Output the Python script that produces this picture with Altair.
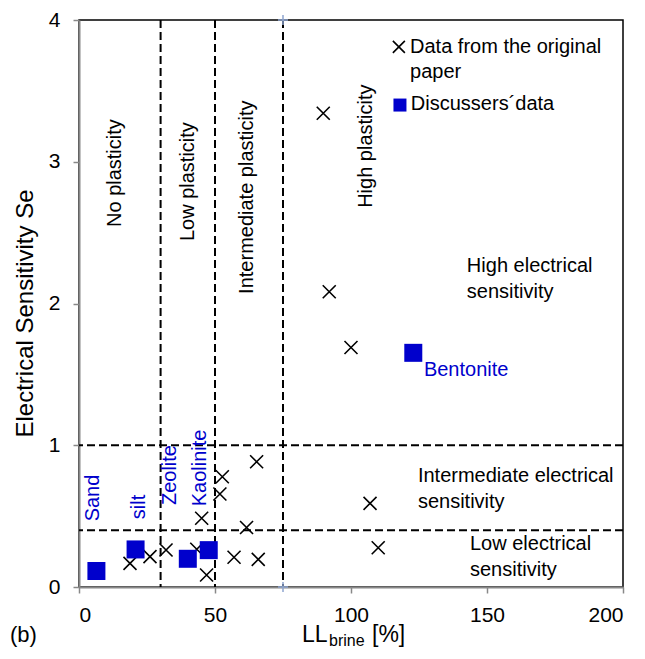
import altair as alt
import pandas as pd

# --- data ---
orig_x = [18.75, 26.1, 32.0, 43.3, 45.1, 46.9, 51.8, 52.7, 57.0, 61.6, 65.3, 65.9, 89.8, 92.0, 100.0, 107.0, 110.0]
orig_y = [0.167, 0.214, 0.261, 0.266, 0.485, 0.085, 0.656, 0.778, 0.21, 0.42, 0.884, 0.195, 3.342, 2.083, 1.69, 0.59, 0.277]

disc_names = ["Sand", "silt", "Zeolite", "Kaolinite", "Bentonite"]
disc_x = [6.4, 20.8, 40.0, 47.7, 122.9]
disc_y = [0.113, 0.265, 0.199, 0.26, 1.652]

plast_limits = [30, 50, 75]
sens_limits = [0.4, 1.0]

x_ticks = [0, 50, 100, 150, 200]
y_ticks = [0, 1, 2, 3, 4]

# annotations (data coordinates)
rot_labels = ["No plasticity", "Low plasticity", "Intermediate plasticity", "High  plasticity"]
rot_x = [13.2, 40.0, 61.8, 105.5]
rot_y = [2.92, 2.86, 2.75, 3.11]

blue_rot_labels = ["Sand", "silt", "Zeolite", "Kaolinite"]
blue_rot_x = [5.1, 22.0, 33.5, 44.5]
blue_rot_y = [0.628, 0.565, 0.79, 0.84]

sens_labels = ["High electrical\nsensitivity", "Intermediate electrical\nsensitivity", "Low electrical\nsensitivity"]
sens_x = [142.6, 124.6, 143.75]
sens_y = [2.22, 0.74, 0.26]

bent_label_x = [126.8]
bent_label_y = [1.49]

leg_labels = ["Data from the original\npaper", "Discussers\u00b4data"]
leg_sym_x = [117.6, 118.0]
leg_sym_y = [3.81, 3.40]
leg_text_x = [121.7, 122.0]
leg_text_y = [3.767, 3.365]

corner_x = [75, 75]
corner_y = [4, 0]

FONT = "Liberation Sans"
BLUE = "#0000cc"
XPATH = "M-1,-1L1,1M-1,1L1,-1"
PLUS = "M-1,0L1,0M0,-1L0,1"

xs = alt.Scale(domain=[0, 200], nice=False)
ys = alt.Scale(domain=[0, 4], nice=False)

x_axis = alt.Axis(values=x_ticks, format="d", title=None, grid=False, domainColor="#888888", domainWidth=2,
                  tickColor="#888888", tickWidth=1.5, tickSize=6, labelFontSize=21, labelFont=FONT,
                  labelColor="black", labelPadding=11)
y_axis = alt.Axis(values=y_ticks, format="d", title="Electrical Sensitivity Se", grid=False,
                  domainColor="#888888", domainWidth=2, tickColor="#888888", tickWidth=1.5, tickSize=6,
                  labelFontSize=21, labelFont=FONT, labelColor="black", labelPadding=13, titleFont=FONT,
                  titleFontSize=24, titleFontWeight="normal", titleColor="black", titleX=-47, titleY=293,
                  titleAngle=270, titleBaseline="alphabetic", titleAlign="center")

orig_df = pd.DataFrame({"x": orig_x, "y": orig_y})
disc_df = pd.DataFrame({"x": disc_x, "y": disc_y, "name": disc_names})

vrules = alt.Chart(pd.DataFrame({"x": plast_limits})).mark_rule(
    color="black", strokeWidth=2, strokeDash=[8, 4]).encode(x=alt.X("x:Q", scale=xs, axis=x_axis))
hrules = alt.Chart(pd.DataFrame({"y": sens_limits})).mark_rule(
    color="black", strokeWidth=2, strokeDash=[8, 4]).encode(y=alt.Y("y:Q", scale=ys, axis=y_axis))

crosses = alt.Chart(orig_df).mark_point(shape=XPATH, filled=False, color="black", strokeWidth=1.6,
                                        size=169, opacity=1).encode(
    x=alt.X("x:Q", scale=xs), y=alt.Y("y:Q", scale=ys))
squares = alt.Chart(disc_df).mark_point(shape="square", filled=True, color=BLUE, size=324, opacity=1).encode(
    x=alt.X("x:Q", scale=xs), y=alt.Y("y:Q", scale=ys))

corner = alt.Chart(pd.DataFrame({"x": corner_x, "y": corner_y})).mark_point(
    shape=PLUS, filled=False, color="#8ea5cf", strokeWidth=1.5, size=100, opacity=1).encode(
    x=alt.X("x:Q", scale=xs), y=alt.Y("y:Q", scale=ys))

rot = alt.Chart(pd.DataFrame({"x": rot_x, "y": rot_y, "t": rot_labels})).mark_text(
    angle=270, font=FONT, fontSize=20, color="black", align="center", baseline="middle").encode(
    x=alt.X("x:Q", scale=xs), y=alt.Y("y:Q", scale=ys), text="t:N")
brot = alt.Chart(pd.DataFrame({"x": blue_rot_x, "y": blue_rot_y, "t": blue_rot_labels})).mark_text(
    angle=270, font=FONT, fontSize=20, color=BLUE, align="center", baseline="middle").encode(
    x=alt.X("x:Q", scale=xs), y=alt.Y("y:Q", scale=ys), text="t:N")
sens = alt.Chart(pd.DataFrame({"x": sens_x, "y": sens_y, "t": sens_labels})).mark_text(
    font=FONT, fontSize=20, color="black", align="left", baseline="alphabetic", lineBreak="\n",
    lineHeight=26).encode(x=alt.X("x:Q", scale=xs), y=alt.Y("y:Q", scale=ys), text="t:N")
bent = alt.Chart(pd.DataFrame({"x": bent_label_x, "y": bent_label_y, "t": ["Bentonite"]})).mark_text(
    font=FONT, fontSize=20, color=BLUE, align="left", baseline="alphabetic").encode(
    x=alt.X("x:Q", scale=xs), y=alt.Y("y:Q", scale=ys), text="t:N")

leg_x = alt.Chart(pd.DataFrame({"x": leg_sym_x[:1], "y": leg_sym_y[:1]})).mark_point(
    shape=XPATH, filled=False, color="black", strokeWidth=1.6, size=144, opacity=1).encode(
    x=alt.X("x:Q", scale=xs), y=alt.Y("y:Q", scale=ys))
leg_sq = alt.Chart(pd.DataFrame({"x": leg_sym_x[1:], "y": leg_sym_y[1:]})).mark_point(
    shape="square", filled=True, color=BLUE, size=169, opacity=1).encode(
    x=alt.X("x:Q", scale=xs), y=alt.Y("y:Q", scale=ys))
leg_t = alt.Chart(pd.DataFrame({"x": leg_text_x, "y": leg_text_y, "t": leg_labels})).mark_text(
    font=FONT, fontSize=20, color="black", align="left", baseline="alphabetic", lineBreak="\n",
    lineHeight=25).encode(x=alt.X("x:Q", scale=xs), y=alt.Y("y:Q", scale=ys), text="t:N")

# x-axis title with subscript and panel tag
one = pd.DataFrame({"a": [0]})
t_ll = alt.Chart(one).mark_text(font=FONT, fontSize=23, color="black", align="left", baseline="alphabetic",
                                text="LL").encode(x=alt.value(223), y=alt.value(622))
t_sub = alt.Chart(one).mark_text(font=FONT, fontSize=16, color="black", align="left", baseline="alphabetic",
                                 text="brine").encode(x=alt.value(250), y=alt.value(626))
t_pct = alt.Chart(one).mark_text(font=FONT, fontSize=23, color="black", align="left", baseline="alphabetic",
                                 text="[%]").encode(x=alt.value(293), y=alt.value(622))
t_b = alt.Chart(one).mark_text(font=FONT, fontSize=22, color="black", align="left", baseline="alphabetic",
                               text="(b)").encode(x=alt.value(-69), y=alt.value(622))

chart = alt.layer(
    vrules, hrules, corner, rot, brot, sens, bent, crosses, squares, leg_x, leg_sq, leg_t,
    t_ll, t_sub, t_pct, t_b
).properties(
    width=544, height=567,
    autosize=alt.AutoSizeParams(type="none"),
    padding={"left": 71, "top": 12, "right": 14, "bottom": 64},
).configure_view(stroke="black", strokeWidth=1.5)

chart.save("out.html", embed_options={"renderer": "svg", "actions": False})
